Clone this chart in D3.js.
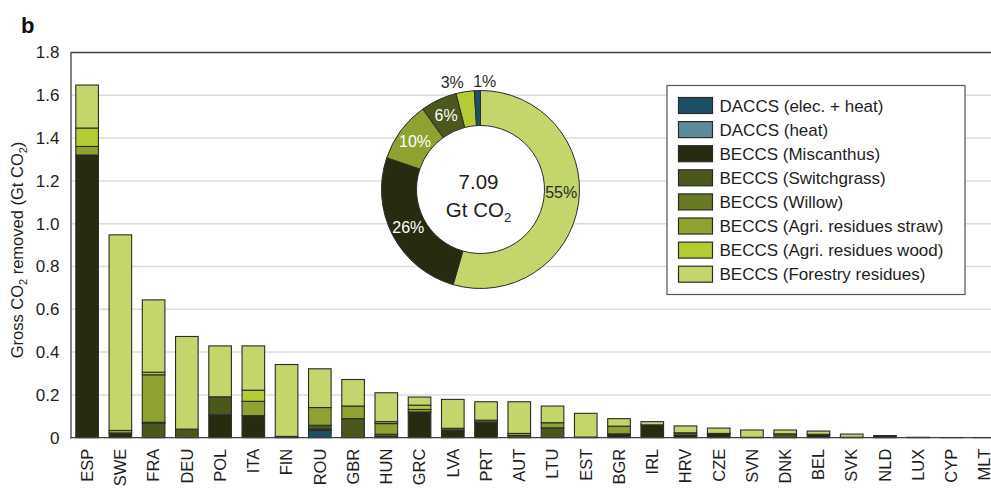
<!DOCTYPE html>
<html>
<head>
<meta charset="utf-8">
<script src="https://cdn.jsdelivr.net/npm/d3@7/dist/d3.min.js"></script>
<style>
  html, body { margin: 0; padding: 0; background: #fff; }
  svg { display: block; font-family: "Liberation Sans", Arial, sans-serif; }
</style>
</head>
<body>
<svg id="chart" width="991" height="489"></svg>
<script>
// Countries, ordered by total removal
const countries = ["ESP","SWE","FRA","DEU","POL","ITA","FIN","ROU","GBR","HUN","GRC","LVA","PRT","AUT",
  "LTU","EST","BGR","IRL","HRV","CZE","SVN","DNK","BEL","SVK","NLD","LUX","CYP","MLT"];

// Gross CO2 removed per technology (Gt CO2), one value per country
const daccsElecHeat = [0,0,0,0,0,0,0,0.034,0,0,0,0,0,0,0,0,0,0,0,0,0,0,0,0,0,0,0,0];
const daccsHeat     = [0,0,0,0,0,0,0,0,0,0,0,0,0,0,0,0,0,0,0,0,0,0,0,0,0,0,0,0];
const miscanthus    = [1.321,0.022,0,0,0.107,0.103,0.006,0.006,0,0.005,0.120,0.033,0.070,0,0,0.003,0.018,0.060,0.010,0.020,0.002,0,0.016,0.002,0.010,0.002,0.001,0.001];
const switchgrass   = [0,0,0.068,0.040,0.084,0,0,0.018,0.089,0.011,0,0.011,0.012,0.010,0.046,0,0,0,0.013,0,0,0.018,0,0,0,0,0,0];
const willow        = [0,0,0.004,0,0,0,0,0,0,0,0,0,0,0,0,0,0,0,0,0,0,0,0,0,0,0,0,0];
const agriStraw     = [0.040,0.012,0.222,0,0,0.067,0,0.083,0.059,0.050,0.012,0,0,0.010,0.024,0,0.036,0,0,0,0,0,0,0,0,0,0,0];
const agriWood      = [0.086,0,0.012,0,0,0.052,0,0,0,0.009,0.020,0,0,0,0,0,0,0,0,0,0,0,0,0,0,0,0,0];
const forestry      = [0.201,0.914,0.338,0.433,0.238,0.207,0.336,0.181,0.124,0.135,0.038,0.135,0.086,0.148,0.078,0.111,0.035,0.015,0.032,0.025,0.034,0.018,0.015,0.015,0,0,0,0];

const seriesNames = ["DACCS (elec. + heat)","DACCS (heat)","BECCS (Miscanthus)","BECCS (Switchgrass)",
  "BECCS (Willow)","BECCS (Agri. residues straw)","BECCS (Agri. residues wood)","BECCS (Forestry residues)"];
const seriesColors = ["#1d4f66","#5e8b9c","#262c10","#4a581b","#687a24","#8da230","#b3cc34","#c3d66b"];
const seriesValues = [daccsElecHeat, daccsHeat, miscanthus, switchgrass, willow, agriStraw, agriWood, forestry];

// EU-wide share of each technology (%), shown in the ring
const donutSeries = ["BECCS (Forestry residues)","BECCS (Miscanthus)","BECCS (Agri. residues straw)",
  "BECCS (Switchgrass)","BECCS (Agri. residues wood)","DACCS (elec. + heat)"];
const donutShares = [55, 26, 10, 6, 3, 1];
const donutTotal = "7.09";

const yTicks = [0,0.2,0.4,0.6,0.8,1.0,1.2,1.4,1.6,1.8];

const svg = d3.select("#chart");
const W = 991, H = 489;
const plot = { left: 70.5, right: 1001.3, top: 52.5, bottom: 437.7 };
const FONT = "'Liberation Sans', Arial, sans-serif";

svg.append("rect").attr("width", W).attr("height", H).attr("fill", "#fff");

const x = d3.scaleBand().domain(countries).range([plot.left, plot.right])
  .paddingInner(0.32).paddingOuter(0.16);
const y = d3.scaleLinear().domain([0, 1.8]).range([plot.bottom, plot.top]);

// gridlines
svg.append("g").selectAll("line")
  .data(yTicks.filter(t => t > 0 && t < 1.8))
  .join("line")
  .attr("x1", plot.left).attr("x2", W)
  .attr("y1", d => y(d)).attr("y2", d => y(d))
  .attr("stroke", "#dcdcdc").attr("stroke-width", 1.5);

// stacked bars
const table = countries.map((c, i) => {
  const row = { country: c };
  seriesNames.forEach((s, k) => row[s] = seriesValues[k][i]);
  return row;
});
const stacked = d3.stack().keys(seriesNames)(table);

const barG = svg.append("g");
stacked.forEach((layer, k) => {
  barG.append("g").selectAll("rect")
    .data(layer.filter(d => d[1] - d[0] > 0))
    .join("rect")
    .attr("x", d => x(d.data.country))
    .attr("width", x.bandwidth())
    .attr("y", d => y(d[1]))
    .attr("height", d => y(d[0]) - y(d[1]))
    .attr("fill", seriesColors[k])
    .attr("stroke", "#2b2b2b").attr("stroke-width", 1.1);
});

// frame: top edge, left axis, baseline
svg.append("line").attr("x1", plot.left).attr("x2", W).attr("y1", plot.top).attr("y2", plot.top)
  .attr("stroke", "#404040").attr("stroke-width", 1.3);

const yAxis = svg.append("g").attr("transform", `translate(${plot.left},0)`)
  .call(d3.axisLeft(y).tickValues(yTicks).tickSize(0).tickPadding(11)
    .tickFormat(d => d === 0 ? "0" : d3.format(".1f")(d)));
yAxis.select(".domain").attr("stroke", "#404040").attr("stroke-width", 1.3);
yAxis.selectAll("text").attr("font-size", 17).attr("fill", "#1e1e1e").attr("font-family", FONT);

const xAxis = svg.append("g").attr("transform", `translate(0,${plot.bottom})`)
  .call(d3.axisBottom(x).tickSize(0).tickPadding(0));
xAxis.select(".domain").attr("stroke", "#404040").attr("stroke-width", 1.3)
  .attr("d", `M${plot.left},0H${W}`);
xAxis.selectAll("text")
  .attr("font-size", 16.5).attr("fill", "#1e1e1e").attr("font-family", FONT)
  .attr("text-anchor", "end")
  .attr("transform", "rotate(-90)")
  .attr("x", -11).attr("y", 0).attr("dy", "0.35em");

// y axis title
const yt = svg.append("text")
  .attr("transform", "translate(23,250) rotate(-90)")
  .attr("text-anchor", "middle").attr("font-size", 16.5).attr("fill", "#1e1e1e");
yt.append("tspan").text("Gross CO");
yt.append("tspan").text("2").attr("font-size", 11).attr("dy", 4);
yt.append("tspan").text(" removed (Gt CO").attr("font-size", 16.5).attr("dy", -4);
yt.append("tspan").text("2").attr("font-size", 11).attr("dy", 4);
yt.append("tspan").text(")").attr("font-size", 16.5).attr("dy", -4);

// panel letter
svg.append("text").attr("x", 21).attr("y", 33).text("b")
  .attr("font-size", 22).attr("font-weight", "bold").attr("fill", "#111");

// donut of technology shares
const cx = 480.5, cy = 189.5, rOut = 99, rIn = 64;
const dG = svg.append("g").attr("transform", `translate(${cx},${cy})`);
dG.append("circle").attr("r", rOut).attr("fill", "#fff");
const pie = d3.pie().sort(null).value(d => d.v);
const arcs = pie(donutSeries.map((s, i) => ({ s, v: donutShares[i] })));
const arc = d3.arc().innerRadius(rIn).outerRadius(rOut);
dG.selectAll("path").data(arcs).join("path")
  .attr("d", arc)
  .attr("fill", d => seriesColors[seriesNames.indexOf(d.data.s)])
  .attr("stroke", "#2b2b2b").attr("stroke-width", 1);

const labelArc = d3.arc().innerRadius((rIn + rOut) / 2).outerRadius((rIn + rOut) / 2);
arcs.forEach(d => {
  const inside = d.data.v >= 5;
  const mid = (d.startAngle + d.endAngle) / 2;
  let px, py, anchor = "middle";
  if (inside) {
    [px, py] = labelArc.centroid(d);
    if (d.data.v > 50) py -= 8;
  } else {
    px = 108 * Math.sin(mid); py = -108 * Math.cos(mid);
    anchor = mid > 6.2 ? "start" : "end";
    px += anchor === "start" ? -4 : 0;
  }
  const dark = d.data.s === "BECCS (Forestry residues)" || !inside;
  dG.append("text").attr("x", px).attr("y", py).attr("dy", "0.35em")
    .attr("text-anchor", anchor).attr("font-size", 16)
    .attr("fill", dark ? "#2a2a2a" : "#fff")
    .text(d.data.v + "%");
});

dG.append("text").attr("x", -2).attr("y", -1).attr("text-anchor", "middle")
  .attr("font-size", 20.5).attr("fill", "#1e1e1e").text(donutTotal);
const gt = dG.append("text").attr("x", -2).attr("y", 27).attr("text-anchor", "middle")
  .attr("font-size", 20.5).attr("fill", "#1e1e1e");
gt.append("tspan").text("Gt CO");
gt.append("tspan").text("2").attr("font-size", 13).attr("dy", 5);

// legend
const lg = svg.append("g").attr("transform", "translate(667,85.5)");
lg.append("rect").attr("width", 298).attr("height", 209)
  .attr("fill", "#fff").attr("stroke", "#555").attr("stroke-width", 1.2);
seriesNames.forEach((s, i) => {
  const row = lg.append("g").attr("transform", `translate(11.5,${12 + i * 24.1})`);
  row.append("rect").attr("width", 34).attr("height", 16)
    .attr("fill", seriesColors[i]).attr("stroke", "#2b2b2b").attr("stroke-width", 1.2);
  row.append("text").attr("x", 41).attr("y", 8).attr("dy", "0.36em")
    .attr("font-size", 17).attr("fill", "#1e1e1e").text(s);
});
</script>
</body>
</html>
